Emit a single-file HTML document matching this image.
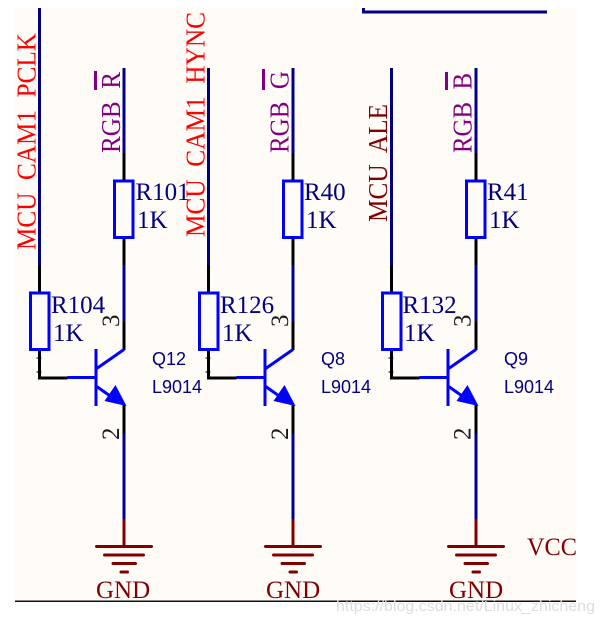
<!DOCTYPE html>
<html><head><meta charset="utf-8">
<style>
html,body{margin:0;padding:0;background:#fff;width:602px;height:624px;overflow:hidden}
svg{display:block}
text{font-family:"Liberation Serif",serif}
.n{fill:#000080;font-size:25px}
.q{fill:#000080;font-family:"Liberation Sans",sans-serif;font-size:18px}
.p{fill:#1a1a1a;font-size:25px}
.g{fill:#800000;font-size:25px}
.r{fill:#ff0000;font-size:27px}
.m{fill:#800080;font-size:27px}
</style></head><body>
<svg width="602" height="624" viewBox="0 0 602 624" xmlns="http://www.w3.org/2000/svg">
<defs>
<g id="c" fill="none" stroke-width="3">
 <!-- right wire -->
 <path d="M84.5 68V153" stroke="#000088"/>
 <path d="M84.5 153V181" stroke="#000"/>
 <path d="M84.5 237V265" stroke="#000"/>
 <path d="M84.5 265V322" stroke="#000090"/>
 <path d="M84.5 322V350" stroke="#000"/>
 <rect x="75" y="181" width="18.5" height="56.5" stroke="#0000ff"/>
 <!-- left wire lower part -->
 <path d="M0 265V293M0 349V378H28" stroke="#000"/>
 <path d="M-3 358H2M-3 372H2" stroke="#000" stroke-width="1"/>
 <rect x="-9" y="293" width="18.5" height="56.5" stroke="#0000ff"/>
 <path d="M28 377.5H56.5" stroke="#0000ff"/>
 <path d="M56.5 349V406M56.5 369L84.5 349.5M56.5 386L72 397" stroke="#0000ff"/>
 <path d="M87 406L65 401L76 385Z" fill="#0000ff" stroke="none"/>
 <!-- emitter wire -->
 <path d="M84.5 405V434" stroke="#000"/>
 <path d="M84.5 434V520" stroke="#000090"/>
 <path d="M84.5 519V546" stroke="#800000"/>
 <g stroke="#800000" stroke-linecap="round">
  <path d="M57 546.5H112"/>
  <path d="M65 555H104"/>
  <path d="M73.5 563.5H96"/>
  <path d="M81.5 572H88"/>
 </g>
</g>
</defs>
<rect x="15" y="8" width="561" height="593" fill="#fffbf7"/>
<rect x="15" y="600.5" width="561" height="1.5" fill="#111"/>

<!-- top wire fragment -->
<path d="M363.5 8V12H547" fill="none" stroke="#000080" stroke-width="3"/>

<use href="#c" transform="translate(39.5 0)"/>
<use href="#c" transform="translate(208.5 0)"/>
<use href="#c" transform="translate(391.5 0)"/>

<!-- left wires top parts -->
<g fill="none" stroke="#000080" stroke-width="3">
 <path d="M39.5 8V265"/>
 <path d="M208.5 68V265"/>
 <path d="M391.5 68V265"/>
</g>

<!-- rotated net labels -->
<text class="r" transform="translate(35.5 250) rotate(-90)" textLength="217" lengthAdjust="spacingAndGlyphs" xml:space="preserve">MCU  CAM1  PCLK</text>
<text class="r" transform="translate(204.5 237) rotate(-90)" textLength="225" lengthAdjust="spacingAndGlyphs" xml:space="preserve">MCU  CAM1  HYNC</text>
<text fill="#800000" font-size="27" transform="translate(387 222) rotate(-90)" textLength="118" lengthAdjust="spacingAndGlyphs" xml:space="preserve">MCU  ALE</text>
<text class="m" transform="translate(120 153) rotate(-90)" textLength="81" lengthAdjust="spacingAndGlyphs" xml:space="preserve">RGB  R</text>
<text class="m" transform="translate(288.5 153) rotate(-90)" textLength="82" lengthAdjust="spacingAndGlyphs" xml:space="preserve">RGB  G</text>
<text class="m" transform="translate(471.5 153) rotate(-90)" textLength="80" lengthAdjust="spacingAndGlyphs" xml:space="preserve">RGB  B</text>
<g fill="#800080">
 <rect x="94" y="71" width="3" height="19"/>
 <rect x="262" y="69" width="3" height="21"/>
 <rect x="445" y="72" width="3" height="18"/>
</g>

<!-- resistor labels -->
<text class="n" x="135.5" y="200">R101</text><text class="n" x="137" y="228">1K</text>
<text class="n" x="304" y="200">R40</text><text class="n" x="306" y="228">1K</text>
<text class="n" x="487" y="200">R41</text><text class="n" x="489" y="228">1K</text>
<text class="n" x="51" y="313">R104</text><text class="n" x="53" y="341">1K</text>
<text class="n" x="220" y="313">R126</text><text class="n" x="222" y="341">1K</text>
<text class="n" x="402.5" y="313">R132</text><text class="n" x="404" y="341">1K</text>

<!-- transistor labels -->
<text class="q" x="152" y="365">Q12</text><text class="q" x="152" y="393">L9014</text>
<text class="q" x="321" y="365">Q8</text><text class="q" x="321" y="393">L9014</text>
<text class="q" x="504" y="365">Q9</text><text class="q" x="504" y="393">L9014</text>

<!-- pin numbers -->
<text class="p" transform="translate(119 327) rotate(-90)">3</text>
<text class="p" transform="translate(119 440) rotate(-90)">2</text>
<text class="p" transform="translate(288 327) rotate(-90)">3</text>
<text class="p" transform="translate(288 440) rotate(-90)">2</text>
<text class="p" transform="translate(470.5 327) rotate(-90)">3</text>
<text class="p" transform="translate(470.5 440) rotate(-90)">2</text>

<!-- power labels -->
<text class="g" x="96" y="598">GND</text>
<text class="g" x="266" y="598">GND</text>
<text class="g" x="449" y="598">GND</text>
<text class="g" x="527" y="555" textLength="50" lengthAdjust="spacingAndGlyphs">VCC</text>

<!-- watermark -->
<text x="336" y="611" fill="#dcdcdc" style="font-family:'Liberation Sans',sans-serif;font-size:15px" textLength="259" lengthAdjust="spacingAndGlyphs">https://blog.csdn.net/Linux_zhicheng</text>
</svg>
</body></html>
